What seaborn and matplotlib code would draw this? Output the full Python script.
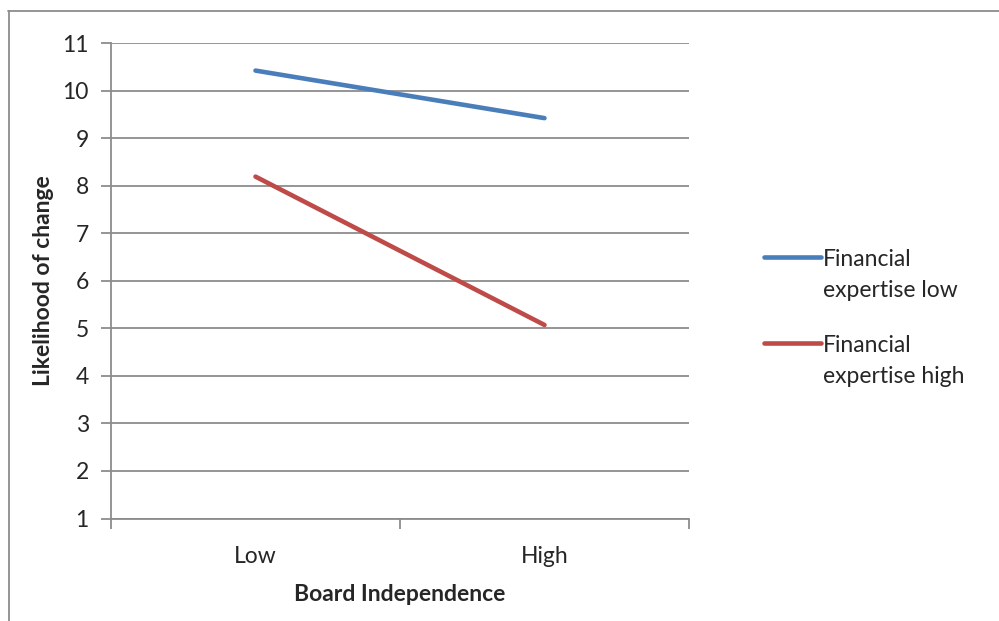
import matplotlib
matplotlib.use("Agg")
import matplotlib.pyplot as plt
from matplotlib.lines import Line2D
from matplotlib.legend_handler import HandlerLine2D
import seaborn as sns
import pandas as pd

# Data
categories = ["Low", "High"]
series_names = ["Financial\nexpertise low", "Financial\nexpertise high"]
expertise_low = [10.42, 9.42]
expertise_high = [8.19, 5.07]
y_ticks = list(range(1, 12))

rows = []
for name, vals in zip(series_names, [expertise_low, expertise_high]):
    for i, (cat, v) in enumerate(zip(categories, vals)):
        rows.append({"pos": i, "Board Independence": cat, "value": v, "series": name})
df = pd.DataFrame(rows)

sns.set_theme(style="white")
plt.rcParams["font.family"] = ["Lato", "DejaVu Sans"]

FS = 16.5
LEG_LINESPACING = 1.6

fig = plt.figure(figsize=(9.99, 6.21), dpi=100)
ax = fig.add_axes([111 / 999, 1 - 518.5 / 621, (689 - 111) / 999, (518.5 - 43) / 621])

palette = {series_names[0]: "#4A7EBB", series_names[1]: "#BE4B48"}
sns.lineplot(data=df, x="pos", y="value", hue="series", palette=palette,
             linewidth=3.3, ax=ax, legend=False, solid_capstyle="round")

grid_color = "#8C8C8C"
ax.set_ylim(1, 11)
ax.set_xlim(-0.5, 1.5)
ax.set_yticks(y_ticks)
ax.yaxis.grid(True, color=grid_color, linewidth=1.3)
ax.set_axisbelow(True)

# Category boundaries carry the tick marks, labels sit at centres
ax.set_xticks([-0.5, 0.5, 1.5])
ax.set_xticklabels([])
ax.set_xticks([0, 1], minor=True)
ax.set_xticklabels(categories, minor=True)
ax.tick_params(axis="x", which="major", direction="out", length=7, width=1.3,
               color=grid_color, bottom=True)
ax.tick_params(axis="x", which="minor", length=0, pad=20, labelsize=FS)
ax.tick_params(axis="y", direction="out", length=7, width=1.3, color=grid_color,
               left=True, labelsize=FS, pad=9)

for side in ["top", "right"]:
    ax.spines[side].set_visible(False)
for side in ["left", "bottom"]:
    ax.spines[side].set_color(grid_color)
    ax.spines[side].set_linewidth(1.3)

ax.set_xlabel("Board Independence", fontsize=FS, fontweight="bold", labelpad=12)
ax.set_ylabel("Likelihood of change", fontsize=FS, fontweight="bold", labelpad=6)


class TopLineHandler(HandlerLine2D):
    """Legend line aligned with the first line of a two-line label."""
    def create_artists(self, legend, orig_handle, xdescent, ydescent, width,
                       height, fontsize, trans):
        artists = super().create_artists(legend, orig_handle, xdescent, ydescent,
                                         width, height, fontsize, trans)
        shift = 0.5 * LEG_LINESPACING * fontsize
        for a in artists:
            a.set_ydata([y + shift for y in a.get_ydata()])
        return artists


handles = [Line2D([0], [0], color=palette[n], linewidth=3.3, solid_capstyle="round")
           for n in series_names]
leg = fig.legend(handles, series_names, loc="upper left",
                 bbox_to_anchor=(755 / 999, 1 - 240 / 621), frameon=False,
                 fontsize=FS, handlelength=2.5, handletextpad=0.05,
                 labelspacing=1.45, borderaxespad=0,
                 handler_map={Line2D: TopLineHandler()})
for t in leg.get_texts():
    t.set_linespacing(LEG_LINESPACING)

# Outer chart frame (top and left edges)
frame_color = "#8C8C8C"
fig.add_artist(Line2D([8 / 999, 1], [1 - 10.5 / 621, 1 - 10.5 / 621],
                      color=frame_color, linewidth=1.3, transform=fig.transFigure))
fig.add_artist(Line2D([8.5 / 999, 8.5 / 999], [0, 1 - 10.5 / 621],
                      color=frame_color, linewidth=1.3, transform=fig.transFigure))

fig.savefig("out.png", dpi=100)
